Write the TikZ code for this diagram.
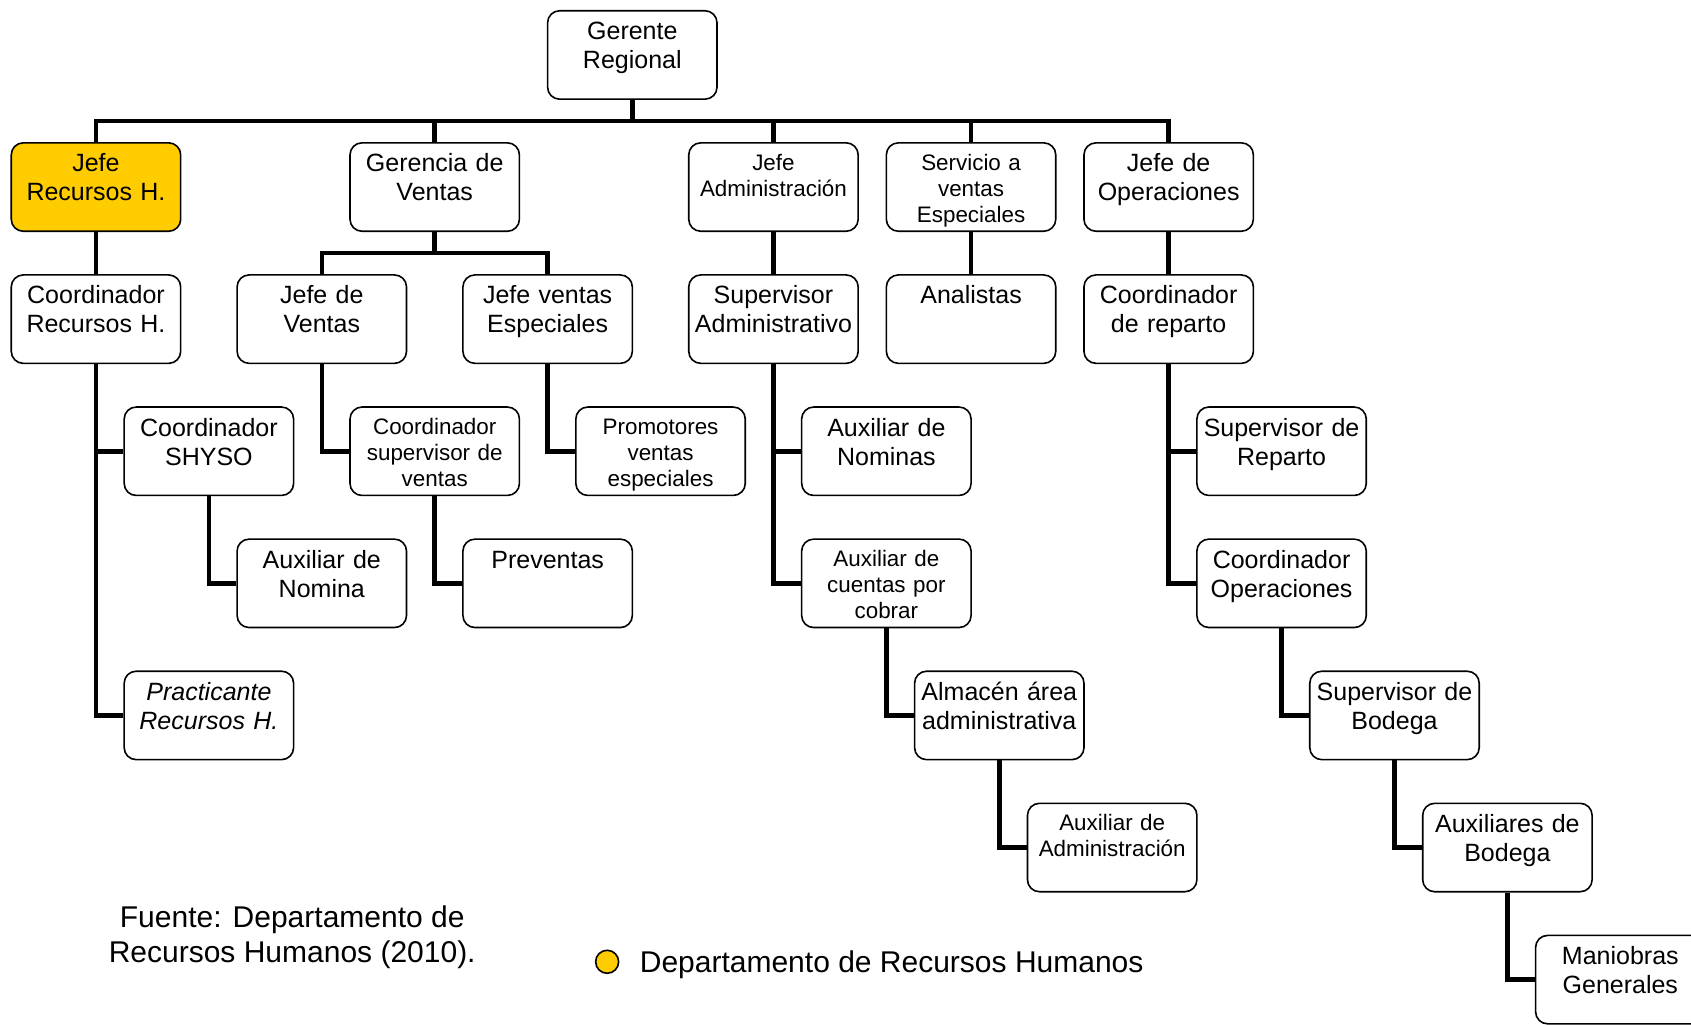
\documentclass[tikz,border=0pt]{standalone}
\usepackage{fontspec}
\setmainfont{Liberation Sans}
\usetikzlibrary{positioning}
\definecolor{rhgold}{HTML}{FFCC00}

\begin{document}
\begin{tikzpicture}[x=1.984cm, y=-2.321cm,
  orgbox/.style={draw, line width=0.8pt, rounded corners=6pt, inner sep=0pt,
    minimum width=84.7pt, text width=84pt, align=center,
    text height=14.5pt, text depth=29.7pt, font=\fontsize{12.5}{14.5}\selectfont},
  smallbox/.style={text height=13.6pt, text depth=30.6pt, font=\fontsize{11.2}{13}\selectfont},
  conn/.style={line width=2.3pt}]
\useasboundingbox (-0.850,-0.416) rectangle (14.126,7.339);

\node[orgbox] (ger) at (4.75,0) {Gerente\\Regional};

\node[orgbox, fill=rhgold] (jrh) at (0,1) {Jefe\\Recursos H.};
\node[orgbox] (gv) at (3,1) {Gerencia de\\Ventas};
\node[orgbox, smallbox] (jad) at (6,1) {Jefe\\Administración};
\node[orgbox, smallbox] (sve) at (7.75,1) {Servicio a\\ventas\\Especiales};
\node[orgbox] (jop) at (9.5,1) {Jefe de\\Operaciones};

\node[orgbox] (crh) at (0,2) {Coordinador\\Recursos H.};
\node[orgbox] (jv) at (2,2) {Jefe de\\Ventas};
\node[orgbox] (jve) at (4,2) {Jefe ventas\\Especiales};
\node[orgbox] (sad) at (6,2) {Supervisor\\Administrativo};
\node[orgbox] (ana) at (7.75,2) {Analistas};
\node[orgbox] (crp) at (9.5,2) {Coordinador\\de reparto};

\node[orgbox] (shy) at (1,3) {Coordinador\\SHYSO};
\node[orgbox, smallbox] (csv) at (3,3) {Coordinador\\supervisor de\\ventas};
\node[orgbox, smallbox] (pve) at (5,3) {Promotores\\ventas\\especiales};
\node[orgbox] (anm) at (7,3) {Auxiliar de\\Nominas};
\node[orgbox] (srp) at (10.5,3) {Supervisor de\\Reparto};

\node[orgbox] (anb) at (2,4) {Auxiliar de\\Nomina};
\node[orgbox] (prv) at (4,4) {Preventas};
\node[orgbox, smallbox] (acc) at (7,4) {Auxiliar de\\cuentas por\\cobrar};
\node[orgbox] (cop) at (10.5,4) {Coordinador\\Operaciones};

\node[orgbox, font=\fontsize{12.5}{14.5}\selectfont\itshape] (prh) at (1,5) {Practicante\\Recursos H.};
\node[orgbox] (alm) at (8,5) {Almacén área\\administrativa};
\node[orgbox] (sbo) at (11.5,5) {Supervisor de\\Bodega};

\node[orgbox, smallbox] (aad) at (9,6) {Auxiliar de\\Administración};
\node[orgbox] (abo) at (12.5,6) {Auxiliares de\\Bodega};

\node[orgbox] (man) at (13.5,7) {Maniobras\\Generales};

\coordinate (bus) at (4.75,0.5);
\coordinate (vbus) at (3,1.5);
\draw[conn] (ger.south) -- (bus);
\draw[conn] (jrh.north) |- (bus) -| (jop.north);
\foreach \n in {gv,jad,sve}
  \draw[conn] (\n.north) -- (\n.north |- bus);
\draw[conn] (gv.south) -- (vbus);
\draw[conn] (jv.north) |- (vbus) -| (jve.north);
\foreach \a/\b in {jrh/crh, jad/sad, sve/ana, jop/crp}
  \draw[conn] (\a.south) -- (\b.north);
\foreach \a/\b in {crh/shy, crh/prh, shy/anb, jv/csv, csv/prv, jve/pve, sad/anm, sad/acc,
                   acc/alm, alm/aad, crp/srp, crp/cop, cop/sbo, sbo/abo, abo/man}
  \draw[conn] (\a.south) |- (\b.west);

\node[align=center, font=\fontsize{15}{17.25}\selectfont] (src) at (1.738,6.678)
  {Fuente: Departamento de\\Recursos Humanos (2010).};
\node[circle, draw, line width=0.8pt, fill=rhgold, inner sep=0pt, minimum size=11.5pt] (dot) at (4.527,6.865) {};
\node[right=10pt of dot, inner sep=0pt, yshift=-1.4pt, font=\fontsize{15}{17.25}\selectfont] (leg) {Departamento de Recursos Humanos};
\end{tikzpicture}
\end{document}
